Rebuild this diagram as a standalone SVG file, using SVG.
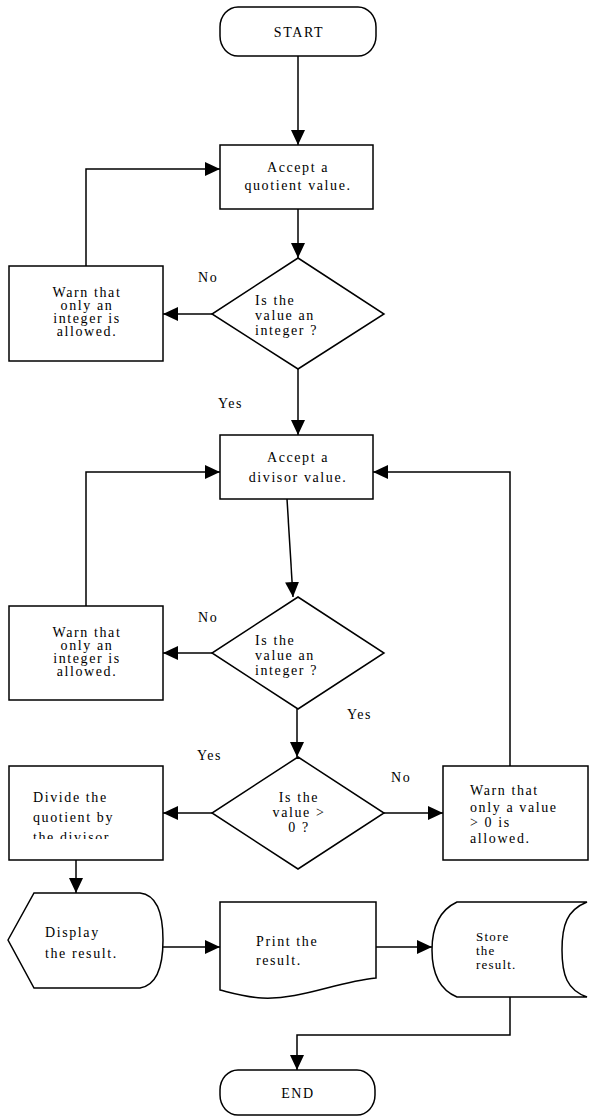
<svg xmlns="http://www.w3.org/2000/svg" width="590" height="1116" viewBox="0 0 590 1116">
<defs>
<style>
.s{fill:#fff;stroke:#000;stroke-width:1.5}
.c{fill:none;stroke:#000;stroke-width:1.5}
text{font-family:"Liberation Serif","Times New Roman",serif;font-size:14px;fill:#000;letter-spacing:1.6px}
.m{text-anchor:middle}
.sm{font-size:13px;letter-spacing:1.2px}
</style>
<marker id="ah" markerUnits="userSpaceOnUse" markerWidth="16" markerHeight="15" refX="15" refY="7" orient="auto">
<path d="M0,0 L15,7 L0,14 Z" fill="#000"/>
</marker>
<clipPath id="divclip"><rect x="9" y="766" width="154" height="73"/></clipPath>
</defs>
<rect width="590" height="1116" fill="#fff"/>

<g id="connectors">
<path class="c" d="M298,56 V145" marker-end="url(#ah)"/>
<path class="c" d="M298,209 V258" marker-end="url(#ah)"/>
<path class="c" d="M212,314 H163" marker-end="url(#ah)"/>
<path class="c" d="M86,266 V169 H220" marker-end="url(#ah)"/>
<path class="c" d="M298,369 V435" marker-end="url(#ah)"/>
<path class="c" d="M287,499 L293,597" marker-end="url(#ah)"/>
<path class="c" d="M212,653 H163" marker-end="url(#ah)"/>
<path class="c" d="M86,606 V472 H220" marker-end="url(#ah)"/>
<path class="c" d="M297,709 V757" marker-end="url(#ah)"/>
<path class="c" d="M212,813 H163" marker-end="url(#ah)"/>
<path class="c" d="M384,813 H443" marker-end="url(#ah)"/>
<path class="c" d="M510,766 V472 H373" marker-end="url(#ah)"/>
<path class="c" d="M76,860 V893" marker-end="url(#ah)"/>
<path class="c" d="M163,947 H220" marker-end="url(#ah)"/>
<path class="c" d="M376,947 H432" marker-end="url(#ah)"/>
<path class="c" d="M510,997 V1035 H297 V1070" marker-end="url(#ah)"/>
</g>

<g id="labels">
<text x="198" y="282">No</text>
<text x="218" y="408">Yes</text>
<text x="198" y="622">No</text>
<text x="347" y="719">Yes</text>
<text x="197" y="760">Yes</text>
<text x="391" y="782">No</text>
</g>

<g id="start">
<rect class="s" x="220" y="7" width="156" height="49" rx="18" ry="20"/>
<text class="m" x="299" y="37">START</text>
</g>

<g id="accept-quotient">
<rect class="s" x="220" y="145" width="153" height="64"/>
<text class="m" x="298" y="172">Accept a</text>
<text class="m" x="298" y="190">quotient value.</text>
</g>

<g id="check-quotient">
<polygon class="s" points="298,258 384,314 298,369 212,314"/>
<text x="255" y="305">Is the</text>
<text x="255" y="320">value an</text>
<text x="255" y="335">integer ?</text>
</g>

<g id="warn-quotient">
<rect class="s" x="9" y="266" width="154" height="95"/>
<text class="m" x="87" y="297">Warn that</text>
<text class="m" x="87" y="310">only an</text>
<text class="m" x="87" y="323">integer is</text>
<text class="m" x="87" y="336">allowed.</text>
</g>

<g id="accept-divisor">
<rect class="s" x="220" y="435" width="153" height="64"/>
<text class="m" x="298" y="462">Accept a</text>
<text class="m" x="298" y="482">divisor value.</text>
</g>

<g id="check-divisor">
<polygon class="s" points="298,597 384,653 298,709 212,653"/>
<text x="255" y="645">Is the</text>
<text x="255" y="660">value an</text>
<text x="255" y="675">integer ?</text>
</g>

<g id="warn-divisor">
<rect class="s" x="9" y="606" width="154" height="94"/>
<text class="m" x="87" y="637">Warn that</text>
<text class="m" x="87" y="650">only an</text>
<text class="m" x="87" y="663">integer is</text>
<text class="m" x="87" y="676">allowed.</text>
</g>

<g id="check-positive">
<polygon class="s" points="298,757 384,813 298,869 212,813"/>
<text class="m" x="299" y="802">Is the</text>
<text class="m" x="299" y="817">value &gt;</text>
<text class="m" x="299" y="832">0 ?</text>
</g>

<g id="divide">
<rect class="s" x="9" y="766" width="154" height="94"/>
<g clip-path="url(#divclip)">
<text x="33" y="802">Divide the</text>
<text x="33" y="822">quotient by</text>
<text x="33" y="842">the divisor</text>
</g>
</g>

<g id="warn-positive">
<rect class="s" x="443" y="766" width="145" height="94"/>
<text x="470" y="795">Warn that</text>
<text x="470" y="812">only a value</text>
<text x="470" y="827">&gt; 0 is</text>
<text x="470" y="843">allowed.</text>
</g>

<g id="display">
<path class="s" d="M8,940 L34,893 H140 C158,895 163,915 163,940 C163,965 158,985 140,988 H34 Z"/>
<text x="45" y="937">Display</text>
<text x="45" y="958">the result.</text>
</g>

<g id="print">
<path class="s" d="M220,902 H376 V978 C336,982 300,1000 262,998 C245,997 232,993 220,990 Z"/>
<text x="256" y="946">Print the</text>
<text x="256" y="965">result.</text>
</g>

<g id="store">
<path class="s" d="M457,902 H587 C567,910 562,925 562,950 C562,975 567,990 587,997 H457 C440,990 432,975 432,950 C432,925 440,910 457,902 Z"/>
<text class="sm" x="476" y="941">Store</text>
<text class="sm" x="476" y="955">the</text>
<text class="sm" x="476" y="969">result.</text>
</g>

<g id="end">
<rect class="s" x="220" y="1070" width="155" height="45" rx="18" ry="20"/>
<text class="m" x="298" y="1098">END</text>
</g>
</svg>
